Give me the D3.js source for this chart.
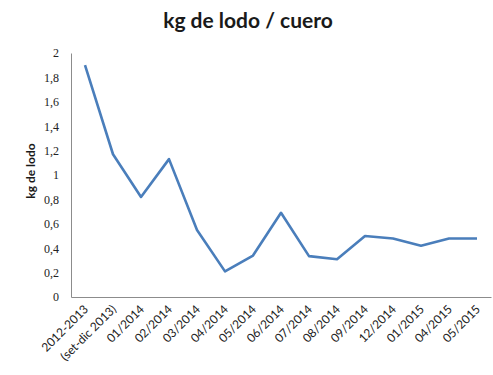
<!DOCTYPE html>
<html><head><meta charset="utf-8">
<script src="https://cdn.jsdelivr.net/npm/d3@7"></script>
<style>body{margin:0;background:#fff}</style>
</head><body>
<svg id="c" width="493" height="375"></svg>
<script>
const categories = ["2012-2013","(set-dic 2013)","01/2014","02/2014","03/2014","04/2014","05/2014","06/2014","07/2014","08/2014","09/2014","12/2014","01/2015","04/2015","05/2015"];
const values = [1.90,1.17,0.82,1.13,0.55,0.21,0.34,0.69,0.335,0.31,0.50,0.48,0.42,0.48,0.48];
const yTicks = [0,0.2,0.4,0.6,0.8,1,1.2,1.4,1.6,1.8,2];
const title = "kg de lodo / cuero";
const yTitle = "kg de lodo";

const svg = d3.select("#c");
const L = 71, R = 491, T = 53, B = 297;
const x = d3.scaleBand().domain(categories).range([L, R]);
const y = d3.scaleLinear().domain([0, 2]).range([B, T]);
const fmt = d => String(d).replace(".", ",");

svg.append("text").attr("x", 248).attr("y", 28).attr("text-anchor", "middle")
  .attr("font-family", "Lato, 'Open Sans', sans-serif").attr("font-weight", "bold")
  .attr("font-size", 21).attr("fill", "#1a1a1a").text(title);

const ya = svg.append("g").attr("transform", `translate(${L},0)`)
  .call(d3.axisLeft(y).tickValues(yTicks).tickFormat(fmt).tickSize(0).tickPadding(12));
ya.select(".domain").attr("stroke", "#8c8c8c");
ya.selectAll("text").attr("font-family", "'Liberation Serif', serif").attr("font-size", 12).attr("fill", "#222");

const xa = svg.append("g").attr("transform", `translate(0,${B})`)
  .call(d3.axisBottom(x).tickSize(0).tickPadding(0));
xa.select(".domain").attr("stroke", "#8c8c8c");
xa.selectAll("text").attr("font-family", "Lato, 'Open Sans', sans-serif").attr("font-size", 12).attr("fill", "#222")
  .attr("text-anchor", "end").attr("dy", 0)
  .attr("transform", "translate(4,13) rotate(-45)");

svg.append("text").attr("transform", "translate(35,171) rotate(-90)").attr("text-anchor", "middle")
  .attr("font-family", "Lato, 'Open Sans', sans-serif").attr("font-weight", "bold")
  .attr("font-size", 12).attr("fill", "#1a1a1a").text(yTitle);

const line = d3.line().x((d, i) => x(categories[i]) + x.bandwidth() / 2).y(d => y(d));
svg.append("path").datum(values).attr("d", line).attr("fill", "none")
  .attr("stroke", "#4a7ebb").attr("stroke-width", 2.6).attr("stroke-linejoin", "round");
</script>
</body></html>
